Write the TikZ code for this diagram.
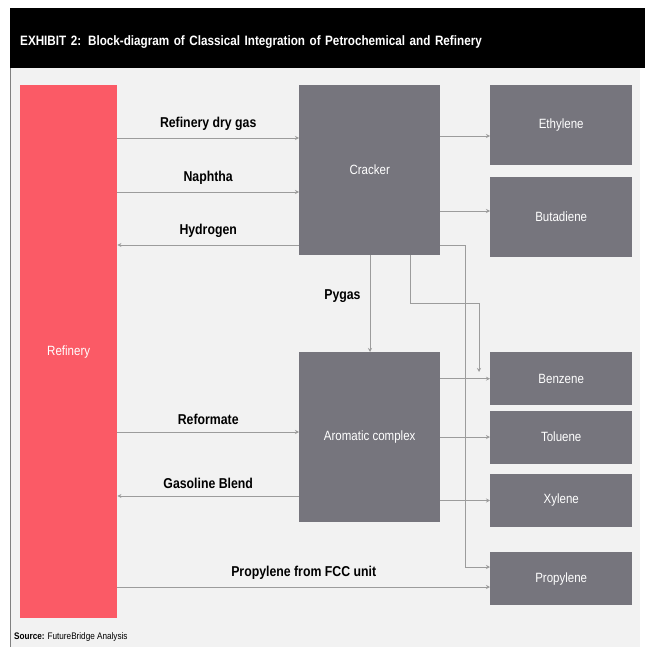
\documentclass[tikz,border=0pt]{standalone}
\usepackage{fontspec}
\setmainfont{Liberation Sans}[FakeStretch=0.86]
\usetikzlibrary{arrows.meta,positioning}
\definecolor{refred}{HTML}{FB5A66}
\definecolor{unitgrey}{HTML}{76757D}
\definecolor{panel}{HTML}{F2F2F2}
\definecolor{pipe}{HTML}{9C9C9C}
\tikzset{
  unit/.style={fill=unitgrey, text=white, anchor=north west, inner sep=0pt, font=\fontsize{13.4}{15}\selectfont},
  product/.style={unit, minimum width=142pt},
  flow/.style={-{Stealth[length=4pt,width=4pt]}, pipe, line width=0.9pt},
  stream/.style={font=\bfseries\fontsize{14.3}{16}\selectfont, text=black, inner sep=1pt},
}

\begin{document}
\begin{tikzpicture}[x=1pt, y=-1pt]
  \useasboundingbox (0,0) rectangle (645,647);
  % panel and title bar
  \fill[panel] (10,68) rectangle (640,647);
  \draw[gray, line width=0.8pt] (10,68) -- (10,647);
  \node[fill=black, text=white, anchor=north west, minimum width=635pt, minimum height=60pt,
        text width=615pt, text height=18pt, text depth=3pt, inner xsep=10pt, align=left,
        font=\bfseries\fontsize{13.6}{15}\selectfont] (title) at (10,8)
    {EXHIBIT 2: Block-diagram of Classical Integration of Petrochemical and Refinery};

  % units
  \node[unit, fill=refred, minimum width=97pt, minimum height=533pt] (refinery) at (20,85) {Refinery};
  \node[unit, minimum width=141pt, minimum height=170pt] (cracker) at (299,85) {Cracker};
  \node[unit, minimum width=141pt, minimum height=170pt] (aromatics) at (299,352) {Aromatic complex};

  % products
  \node[product, minimum height=80pt] (ethylene) at (490,85) {Ethylene};
  \node[product, minimum height=80pt, below=11pt of ethylene] (butadiene) {Butadiene};
  \node[product, minimum height=53pt] (benzene) at (490,352) {Benzene};
  \node[product, minimum height=53pt, below=5pt of benzene] (toluene) {Toluene};
  \node[product, minimum height=53pt, below=10pt of toluene] (xylene) {Xylene};
  \node[product, minimum height=53pt] (propylene) at (490,552) {Propylene};
  \coordinate (bzdrop) at (479,372);

  % refinery <-> cracker
  \draw[flow] (refinery.east |- 0,138) -- node[stream, above=6pt] {Refinery dry gas} (cracker.west |- 0,138);
  \draw[flow] (refinery.east |- 0,192) -- node[stream, above=6pt] {Naphtha} (cracker.west |- 0,192);
  \draw[flow] (cracker.west |- 0,245) -- node[stream, above=6pt] {Hydrogen} (refinery.east |- 0,245);

  % cracker outputs
  \draw[flow] (cracker.east |- 0,136) -- (ethylene.west |- 0,136);
  \draw[flow] (cracker.east |- 0,211) -- (butadiene.west |- 0,211);
  \draw[flow] (cracker.south -| 370,0) -- node[stream, left=8pt, pos=0.42] {Pygas} (aromatics.north -| 370,0);
  \draw[flow] (cracker.south -| 410,0) |- (479,303) -- (bzdrop);
  \draw[flow] (cracker.east |- 0,245) -| (465,567) -- (propylene.west |- 0,567);

  % refinery <-> aromatic complex
  \draw[flow] (refinery.east |- 0,432) -- node[stream, above=6pt] {Reformate} (aromatics.west |- 0,432);
  \draw[flow] (aromatics.west |- 0,496) -- node[stream, above=6pt] {Gasoline Blend} (refinery.east |- 0,496);

  % aromatics outputs
  \draw[flow] (aromatics.east |- benzene) -- (benzene.west);
  \draw[flow] (aromatics.east |- toluene) -- (toluene.west);
  \draw[flow] (aromatics.east |- xylene) -- (xylene.west);

  \draw[flow] (refinery.east |- 0,587) -- node[stream, above=6pt] {Propylene from FCC unit} (propylene.west |- 0,587);

  \node[anchor=west, font=\fontsize{9.5}{11}\selectfont, inner sep=0pt] (source) at (14,637)
    {\textbf{Source:} FutureBridge Analysis};
\end{tikzpicture}
\end{document}
